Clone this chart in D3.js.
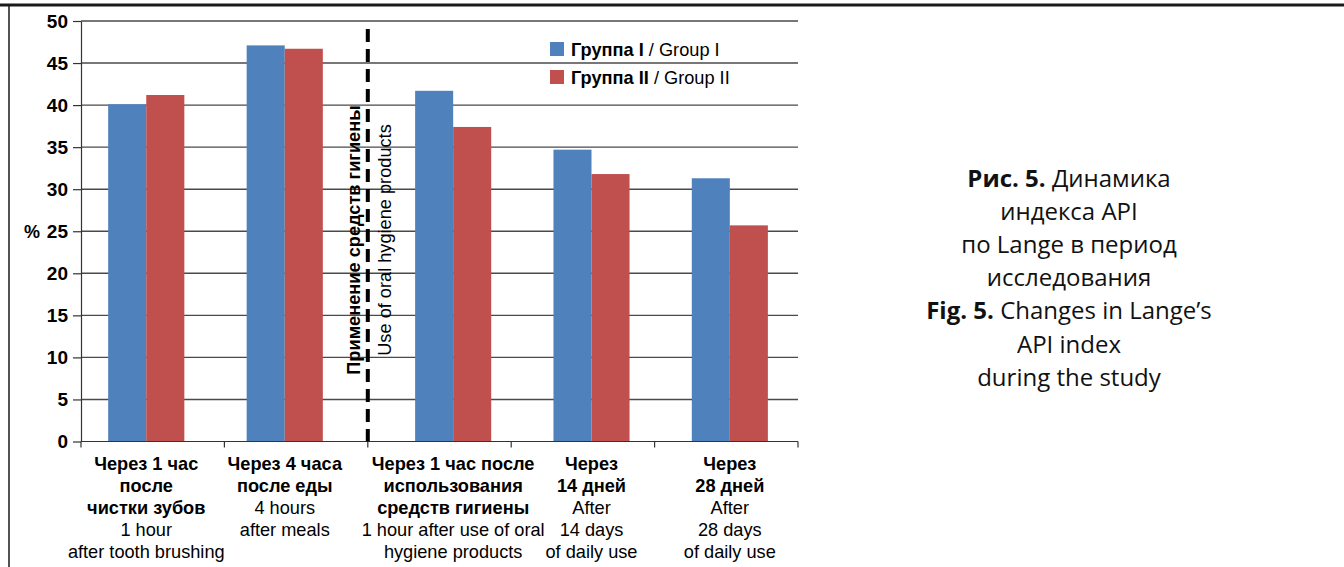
<!DOCTYPE html>
<html><head><meta charset="utf-8">
<script src="https://cdn.jsdelivr.net/npm/d3@7"></script>
<style>
body{margin:0;background:#fff;}
svg{display:block;}
</style></head>
<body>
<svg id="chart" width="1344" height="567"></svg>
<script>
// ---- data ----
const categories = ["c1", "c2", "c3", "c4", "c5"];
const group1Values = [40.1, 47.1, 41.7, 34.7, 31.3];
const group2Values = [41.2, 46.7, 37.4, 31.8, 25.7];
const seriesNames = [["Группа I", " / Group I"], ["Группа II", " / Group II"]];
const labelsBold = [
  ["Через 1 час", "после", "чистки зубов"],
  ["Через 4 часа", "после еды"],
  ["Через 1 час после", "использования", "средств гигиены"],
  ["Через", "14 дней"],
  ["Через", "28 дней"]
];
const labelsNormal = [
  ["1 hour", "after tooth brushing"],
  ["4 hours", "after meals"],
  ["1 hour after use of oral", "hygiene products"],
  ["After", "14 days", "of daily use"],
  ["After", "28 days", "of daily use"]
];
const yTicks = [0, 5, 10, 15, 20, 25, 30, 35, 40, 45, 50];
const interventionIndex = 2;
const interventionText = ["Применение средств гигиены", "Use of oral hygiene products"];
const captionLines = [
  [["Рис. 5.", true], [" Динамика", false]],
  [["индекса API", false]],
  [["по Lange в период", false]],
  [["исследования", false]],
  [["Fig. 5.", true], [" Changes in Lange’s", false]],
  [["API index", false]],
  [["during the study", false]]
];
const colors = ["#4F81BD", "#C0504D"];

// ---- layout ----
const svg = d3.select("#chart");
const font = "'Liberation Sans', Arial, sans-serif";
const fs = 18.2;
const plot = {left: 81, right: 798, top: 21, bottom: 441.5};

const y = d3.scaleLinear().domain([0, 50]).range([plot.bottom, plot.top]);
const xAxisBand = d3.scaleBand().domain(categories).range([plot.left, plot.right]);

// bars: before and after the intervention
const xPre = d3.scaleBand().domain(categories.slice(0, interventionIndex)).range([77, 354]).paddingInner(0.45).paddingOuter(0.225);
const xPost = d3.scaleBand().domain(categories.slice(interventionIndex)).range([384, 799]).paddingInner(0.45).paddingOuter(0.225);
const xGroup = c => categories.indexOf(c) < interventionIndex ? xPre : xPost;

// frame
svg.append("line").attr("x1", 0).attr("x2", 1344).attr("y1", 5).attr("y2", 5)
  .attr("stroke", "#1a1a1a").attr("stroke-width", 3);
svg.append("line").attr("x1", 9).attr("x2", 9).attr("y1", 5).attr("y2", 567)
  .attr("stroke", "#1a1a1a").attr("stroke-width", 1.5);

// gridlines
svg.append("g").selectAll("line").data(yTicks.filter(d => d > 0)).join("line")
  .attr("x1", plot.left).attr("x2", plot.right)
  .attr("y1", d => y(d)).attr("y2", d => y(d))
  .attr("stroke", "#4a4a4a").attr("stroke-width", 1.4);

// bars
const barData = [];
categories.forEach((c, i) => {
  [group1Values[i], group2Values[i]].forEach((v, s) => barData.push({c, s, v}));
});
svg.append("g").selectAll("rect").data(barData).join("rect")
  .attr("x", d => { const sc = xGroup(d.c); return sc(d.c) + d.s * sc.bandwidth() / 2; })
  .attr("width", d => xGroup(d.c).bandwidth() / 2)
  .attr("y", d => y(d.v))
  .attr("height", d => y(0) - y(d.v))
  .attr("fill", d => colors[d.s]);

// y axis
const yAxis = svg.append("g").attr("transform", `translate(${plot.left},0)`)
  .call(d3.axisLeft(y).tickValues(yTicks).tickSize(8).tickPadding(5).tickSizeOuter(0));
yAxis.select(".domain").attr("stroke", "#333").attr("stroke-width", 1.2);
yAxis.selectAll(".tick line").attr("stroke", "#333").attr("stroke-width", 1.2);
yAxis.selectAll("text").attr("font-family", font).attr("font-size", 19).attr("font-weight", "bold").attr("fill", "#000");

svg.append("text").attr("x", 24).attr("y", y(25)).attr("dy", "0.35em")
  .attr("font-family", font).attr("font-size", 18).attr("font-weight", "bold").text("%");

// x axis line + boundary ticks
const bounds = categories.map(c => xAxisBand(c)).concat([plot.right]);
svg.append("line").attr("x1", plot.left).attr("x2", plot.right).attr("y1", y(0)).attr("y2", y(0))
  .attr("stroke", "#333").attr("stroke-width", 1.2);
svg.append("g").selectAll("line").data(bounds).join("line")
  .attr("x1", d => d).attr("x2", d => d).attr("y1", y(0)).attr("y2", y(0) + 6)
  .attr("stroke", "#333").attr("stroke-width", 1.2);

// category labels
const labG = svg.append("g").attr("font-family", font).attr("font-size", fs).attr("text-anchor", "middle");
categories.forEach((c, i) => {
  const sc = xGroup(c);
  const cx = sc(c) + sc.bandwidth() / 2;
  const lines = labelsBold[i].map(t => [t, true]).concat(labelsNormal[i].map(t => [t, false]));
  lines.forEach((l, j) => {
    labG.append("text").attr("x", cx).attr("y", 470 + j * 22)
      .attr("font-weight", l[1] ? "bold" : "normal").text(l[0]);
  });
});

// intervention dashed line
const dashX = xAxisBand(categories[interventionIndex]);
svg.append("line").attr("x1", dashX).attr("x2", dashX).attr("y1", 29).attr("y2", y(0))
  .attr("stroke", "#000").attr("stroke-width", 4).attr("stroke-dasharray", "13,7");
svg.append("text").attr("transform", `translate(${dashX - 8},240) rotate(-90)`)
  .attr("text-anchor", "middle").attr("font-family", font).attr("font-size", fs)
  .attr("font-weight", "bold").text(interventionText[0]);
svg.append("text").attr("transform", `translate(${dashX + 23},240) rotate(-90)`)
  .attr("text-anchor", "middle").attr("font-family", font).attr("font-size", fs)
  .text(interventionText[1]);

// legend
const leg = svg.append("g").attr("font-family", font).attr("font-size", fs);
seriesNames.forEach((n, i) => {
  const yy = 42 + i * 28;
  leg.append("rect").attr("x", 550).attr("y", yy).attr("width", 14).attr("height", 14).attr("fill", colors[i]);
  const t = leg.append("text").attr("x", 571).attr("y", yy + 13.5);
  t.append("tspan").attr("font-weight", "bold").text(n[0]);
  t.append("tspan").text(n[1]);
});

// caption
const cap = svg.append("g").attr("font-family", "'Open Sans', 'Noto Sans', sans-serif")
  .attr("font-size", 24).attr("text-anchor", "middle").attr("fill", "#111");
captionLines.forEach((parts, i) => {
  const t = cap.append("text").attr("x", 1069).attr("y", 186.5 + i * 33.2);
  parts.forEach(p => t.append("tspan").attr("font-weight", p[1] ? "bold" : "normal").text(p[0]));
});
</script>
</body></html>
